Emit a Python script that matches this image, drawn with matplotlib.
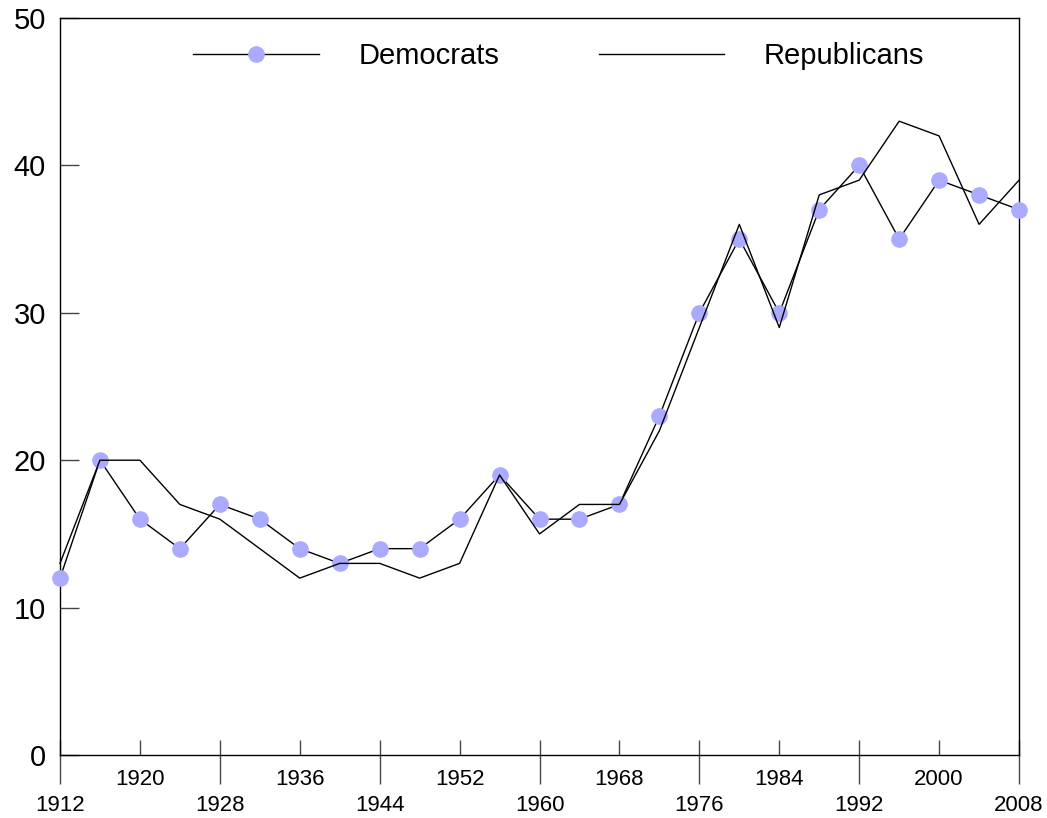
"""
Share of votes by party, 1912-2008: Democrats vs Republicans.
"""

import matplotlib.pyplot as plt
import numpy as np
from matplotlib.ticker import FixedLocator, FixedFormatter

years = list(range(1912, 2009, 4))
democrats = [12, 20, 16, 14, 17, 16, 14, 13, 14, 14, 16, 19, 16,
             16, 17, 23, 30, 35, 30, 37, 40, 35, 39, 38, 37]
republicans = [13, 20, 20, 17, 16, 14, 12, 13, 13, 12, 13, 19, 15,
               17, 17, 22, 29, 36, 29, 38, 39, 43, 42, 36, 39]

upper_row = [1920, 1936, 1952, 1968, 1984, 2000]
lower_row = [1912, 1928, 1944, 1960, 1976, 1992, 2008]

plt.rcParams["font.family"] = ["Liberation Sans", "DejaVu Sans"]

fig = plt.figure(figsize=(10.47, 8.18), dpi=100)
ax = fig.add_axes([0.0573, 0.077, 0.916, 0.901])

ax.plot(years, democrats, color="black", lw=1.0, marker="o", ms=11,
        mfc="#aaaaff", mec="#aaaaff", label="Democrats", clip_on=False, zorder=3)
ax.plot(years, republicans, color="black", lw=1.0, label="Republicans",
        clip_on=False, zorder=4)

ax.set_xlim(1912, 2008)
ax.set_ylim(0, 50)

# y axis: short inward ticks
ax.set_yticks(np.arange(0, 51, 10))
ax.tick_params(axis="y", direction="in", length=14, width=1, color="#444444",
               labelsize=21, pad=10)

# x axis: two staggered label rows
ax.xaxis.remove_overlapping_locs = False
all_ticks = sorted(upper_row + lower_row)
ax.xaxis.set_major_locator(FixedLocator(all_ticks))
ax.xaxis.set_major_formatter(FixedFormatter(
    [str(y) if y in upper_row else "" for y in all_ticks]))
ax.xaxis.set_minor_locator(FixedLocator(lower_row))
ax.xaxis.set_minor_formatter(FixedFormatter([str(y) for y in lower_row]))
ax.tick_params(axis="x", which="major", direction="in", length=11, width=1,
               color="#444444", labelsize=16, pad=10)
ax.tick_params(axis="x", which="minor", direction="out", length=21, width=1,
               color="#444444", labelsize=16, pad=8)

for s in ax.spines.values():
    s.set_linewidth(1.0)
    s.set_color("black")

ax.legend(loc="center", bbox_to_anchor=(0.52, 0.948), ncol=2, frameon=False,
          fontsize=21, handlelength=4.3, handletextpad=1.37, columnspacing=3.4)

fig.savefig("out.png", dpi=100)
